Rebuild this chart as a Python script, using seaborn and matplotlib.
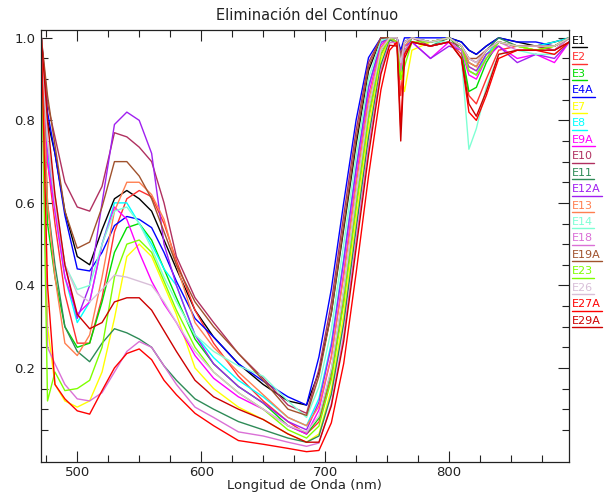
import matplotlib
matplotlib.use("Agg")
import matplotlib.pyplot as plt
import pandas as pd
import seaborn as sns
from matplotlib.ticker import MultipleLocator, FixedLocator, FormatStrFormatter
from matplotlib.lines import Line2D

# ---------------- data ----------------
wavelength = [471, 476, 482, 490, 500, 510, 520, 530, 540, 550, 560, 570, 580, 595, 610, 630, 650, 670, 685,
              695, 705, 715, 725, 735, 745, 752,
              758, 761, 764, 770, 785, 800, 810, 816, 822, 830, 840, 855, 870, 885, 897]

samples = ["E1", "E2", "E3", "E4A", "E7", "E8", "E9A", "E10", "E11", "E12A",
           "E13", "E14", "E18", "E19A", "E23", "E26", "E27A", "E29A"]

colors = ["#000000", "#FF3030", "#00DD00", "#0000FF", "#FFFF00", "#00FFFF", "#FF00FF", "#B03060", "#2E8B57",
          "#A020F0", "#FF7F50", "#7FFFD4", "#DA70D6", "#A0522D", "#7FFF00", "#D8BFD8", "#FF0000", "#CD0000"]

E1 = [1.0, 0.80, 0.72, 0.58, 0.47, 0.45, 0.535, 0.61, 0.63, 0.61, 0.58, 0.51, 0.44, 0.34, 0.275, 0.21, 0.16, 0.12, 0.11,
      0.19, 0.333, 0.537, 0.742, 0.92, 1.0, 1.0,
      1.0, 0.95, 0.99, 1.0, 0.99, 1.0, 0.99, 0.97, 0.96, 0.98, 1.0, 0.99, 0.98, 0.99, 1.0]
E2 = [1.0, 0.70, 0.55, 0.38, 0.26, 0.26, 0.37, 0.53, 0.61, 0.63, 0.615, 0.55, 0.46, 0.34, 0.26, 0.18, 0.12, 0.07, 0.04,
      0.069, 0.18, 0.364, 0.593, 0.806, 0.96, 1.0,
      0.98, 0.86, 0.97, 0.99, 0.98, 0.99, 0.96, 0.86, 0.84, 0.90, 0.97, 0.98, 0.98, 0.97, 0.99]
E3 = [1.0, 0.55, 0.42, 0.30, 0.25, 0.26, 0.36, 0.48, 0.54, 0.55, 0.51, 0.44, 0.37, 0.27, 0.21, 0.155, 0.115, 0.06, 0.04,
      0.078, 0.194, 0.386, 0.616, 0.827, 0.971, 1.0,
      0.99, 0.90, 0.96, 1.0, 0.99, 1.0, 0.97, 0.87, 0.88, 0.94, 0.99, 0.98, 0.97, 0.98, 1.0]
E4A = [1.0, 0.82, 0.72, 0.57, 0.44, 0.435, 0.48, 0.545, 0.567, 0.56, 0.54, 0.48, 0.41, 0.32, 0.275, 0.21, 0.168, 0.13, 0.11,
       0.227, 0.391, 0.601, 0.801, 0.952, 1.0, 1.0,
       1.0, 0.97, 1.0, 1.0, 1.0, 1.0, 0.99, 0.97, 0.96, 0.98, 1.0, 0.99, 0.99, 0.98, 1.0]
E7 = [1.0, 0.30, 0.16, 0.12, 0.105, 0.12, 0.19, 0.32, 0.47, 0.50, 0.47, 0.40, 0.33, 0.20, 0.15, 0.105, 0.075, 0.04, 0.02,
      0.04, 0.149, 0.33, 0.561, 0.78, 0.947, 1.0,
      0.99, 0.92, 0.87, 0.97, 0.99, 1.0, 0.98, 0.93, 0.92, 0.96, 0.99, 0.98, 0.97, 0.98, 1.0]
E8 = [1.0, 0.72, 0.58, 0.42, 0.31, 0.36, 0.50, 0.60, 0.60, 0.55, 0.50, 0.44, 0.40, 0.28, 0.225, 0.17, 0.13, 0.08, 0.06,
      0.126, 0.261, 0.466, 0.686, 0.882, 0.989, 1.0,
      1.0, 0.93, 0.98, 1.0, 0.99, 1.0, 0.98, 0.92, 0.91, 0.96, 0.99, 0.98, 0.98, 0.99, 1.0]
E9A = [1.0, 0.70, 0.58, 0.42, 0.33, 0.36, 0.50, 0.59, 0.56, 0.48, 0.41, 0.355, 0.31, 0.23, 0.175, 0.13, 0.10, 0.06, 0.04,
       0.098, 0.228, 0.432, 0.658, 0.862, 0.983, 1.0,
       0.99, 0.94, 0.98, 0.99, 0.95, 0.99, 0.97, 0.91, 0.90, 0.95, 0.98, 0.95, 0.96, 0.94, 0.99]
E10 = [1.0, 0.84, 0.76, 0.65, 0.59, 0.58, 0.64, 0.77, 0.76, 0.735, 0.70, 0.60, 0.47, 0.37, 0.31, 0.235, 0.175, 0.11, 0.09,
       0.197, 0.358, 0.57, 0.776, 0.94, 1.0, 1.0,
       1.0, 0.96, 0.99, 1.0, 0.98, 0.99, 0.98, 0.95, 0.94, 0.97, 0.99, 0.98, 0.98, 0.97, 1.0]
E11 = [1.0, 0.60, 0.45, 0.30, 0.24, 0.215, 0.26, 0.295, 0.285, 0.27, 0.25, 0.205, 0.17, 0.125, 0.10, 0.07, 0.05, 0.03, 0.02,
       0.035, 0.136, 0.308, 0.537, 0.759, 0.935, 0.994,
       0.99, 0.93, 0.97, 0.99, 0.98, 1.0, 0.98, 0.94, 0.93, 0.97, 1.0, 0.98, 0.98, 0.98, 1.0]
E12A = [1.0, 0.74, 0.60, 0.45, 0.32, 0.40, 0.60, 0.79, 0.82, 0.80, 0.72, 0.50, 0.40, 0.28, 0.21, 0.155, 0.115, 0.07, 0.05,
        0.117, 0.253, 0.46, 0.683, 0.88, 0.989, 1.0,
        0.99, 0.95, 0.98, 0.99, 0.95, 0.98, 0.97, 0.93, 0.92, 0.96, 0.98, 0.94, 0.96, 0.95, 0.99]
E13 = [1.0, 0.60, 0.42, 0.26, 0.23, 0.28, 0.42, 0.58, 0.65, 0.65, 0.62, 0.56, 0.45, 0.31, 0.25, 0.19, 0.135, 0.08, 0.06,
       0.107, 0.227, 0.421, 0.645, 0.848, 0.977, 1.0,
       0.99, 0.93, 0.98, 1.0, 0.99, 1.0, 0.98, 0.94, 0.93, 0.97, 0.99, 0.98, 0.98, 0.98, 1.0]
E14 = [1.0, 0.75, 0.62, 0.45, 0.39, 0.40, 0.50, 0.58, 0.59, 0.55, 0.49, 0.42, 0.36, 0.28, 0.24, 0.205, 0.18, 0.12, 0.08,
       0.154, 0.293, 0.5, 0.713, 0.901, 0.994, 1.0,
       1.0, 0.94, 0.99, 1.0, 0.99, 0.99, 0.95, 0.73, 0.78, 0.88, 0.96, 0.97, 0.96, 0.96, 0.99]
E18 = [1.0, 0.25, 0.21, 0.16, 0.125, 0.12, 0.14, 0.19, 0.24, 0.264, 0.25, 0.205, 0.16, 0.105, 0.08, 0.045, 0.035, 0.02, 0.01,
       0.018, 0.113, 0.279, 0.509, 0.735, 0.923, 0.988,
       0.99, 0.92, 0.97, 0.99, 0.98, 0.99, 0.97, 0.92, 0.91, 0.95, 0.99, 0.97, 0.97, 0.97, 1.0]
E19A = [1.0, 0.86, 0.74, 0.58, 0.49, 0.505, 0.59, 0.70, 0.70, 0.665, 0.61, 0.53, 0.45, 0.36, 0.30, 0.235, 0.17, 0.10, 0.085,
        0.18, 0.334, 0.546, 0.755, 0.929, 1.0, 1.0,
        1.0, 0.95, 0.99, 1.0, 0.99, 1.0, 0.98, 0.95, 0.95, 0.97, 0.99, 0.98, 0.98, 0.98, 1.0]
E23 = [1.0, 0.12, 0.19, 0.145, 0.15, 0.17, 0.25, 0.42, 0.50, 0.51, 0.48, 0.41, 0.34, 0.25, 0.19, 0.14, 0.10, 0.05, 0.03,
       0.059, 0.172, 0.358, 0.589, 0.804, 0.959, 1.0,
       0.99, 0.90, 0.93, 0.99, 0.99, 1.0, 0.98, 0.92, 0.91, 0.95, 0.99, 0.98, 0.97, 0.98, 1.0]
E26 = [1.0, 0.75, 0.60, 0.45, 0.38, 0.36, 0.39, 0.425, 0.42, 0.41, 0.40, 0.36, 0.31, 0.24, 0.19, 0.14, 0.10, 0.06, 0.045,
       0.083, 0.198, 0.389, 0.618, 0.828, 0.971, 1.0,
       1.0, 0.94, 0.99, 1.0, 0.99, 1.0, 0.98, 0.95, 0.94, 0.97, 0.99, 0.98, 0.98, 0.98, 1.0]
E27A = [1.0, 0.40, 0.16, 0.125, 0.096, 0.088, 0.145, 0.20, 0.235, 0.246, 0.22, 0.17, 0.135, 0.09, 0.06, 0.024, 0.015, 0.005, -0.003,
        0.0, 0.067, 0.211, 0.43, 0.665, 0.874, 0.97,
        0.99, 0.78, 0.96, 0.99, 0.98, 0.99, 0.95, 0.82, 0.80, 0.86, 0.95, 0.97, 0.97, 0.96, 0.99]
E29A = [1.0, 0.80, 0.62, 0.45, 0.33, 0.295, 0.31, 0.36, 0.37, 0.37, 0.34, 0.29, 0.24, 0.17, 0.13, 0.10, 0.075, 0.04, 0.02,
        0.02, 0.108, 0.265, 0.49, 0.716, 0.912, 0.982,
        0.98, 0.75, 0.95, 0.99, 0.98, 0.99, 0.95, 0.84, 0.81, 0.87, 0.96, 0.97, 0.97, 0.97, 0.99]

series = {"E1": E1, "E2": E2, "E3": E3, "E4A": E4A, "E7": E7, "E8": E8, "E9A": E9A, "E10": E10,
          "E11": E11, "E12A": E12A, "E13": E13, "E14": E14, "E18": E18, "E19A": E19A, "E23": E23,
          "E26": E26, "E27A": E27A, "E29A": E29A}

rows = []
for name in samples:
    for w, v in zip(wavelength, series[name]):
        rows.append((w, v, name))
df = pd.DataFrame(rows, columns=["wl", "val", "sample"])

# ---------------- figure ----------------
sns.set_style("ticks")
plt.rcParams["font.family"] = ["DejaVu Sans"]
W, H = 606, 494
fig = plt.figure(figsize=(W / 100, H / 100), dpi=100)
ax = fig.add_axes([40.7 / W, 32 / H, (569.3 - 40.7) / W, (462 - 30) / H])

sns.lineplot(data=df, x="wl", y="val", hue="sample", hue_order=samples,
             palette=dict(zip(samples, colors)), sort=False, estimator=None,
             legend=False, lw=1.0, ax=ax)

ax.set_xlim(470.5, 897)
ax.set_ylim(-0.028, 1.019)

txtc = "#222222"
ax.xaxis.set_major_locator(MultipleLocator(100))
ax.xaxis.set_minor_locator(MultipleLocator(25))
ax.yaxis.set_major_locator(FixedLocator([0.2, 0.4, 0.6, 0.8, 1.0]))
ax.yaxis.set_minor_locator(FixedLocator([0.05 * k for k in range(1, 21)]))
ax.yaxis.set_major_formatter(FormatStrFormatter("%.1f"))
ax.tick_params(which="both", direction="in", top=True, right=True, colors="#222222",
               labelcolor=txtc, labelsize=9.5, width=0.8)
ax.tick_params(which="major", length=8)
ax.tick_params(axis="x", which="major", pad=3)
ax.tick_params(axis="y", which="major", pad=4)
ax.tick_params(which="minor", length=5)
for s in ax.spines.values():
    s.set_color("#222222")
    s.set_linewidth(0.9)

ax.set_xlabel("")
ax.set_ylabel("")
fig.text(304 / W, 1 - 485 / H, "Longitud de Onda (nm)", fontsize=9.5, color=txtc,
         ha="center", va="center")
fig.text(307 / W, 1 - 15 / H, "Eliminación del Contínuo", fontsize=10.5, color=txtc,
         ha="center", va="center")

# legend: coloured labels with underline, outside to the right
fig.canvas.draw()
renderer = fig.canvas.get_renderer()
inv = fig.transFigure.inverted()
for i, (name, c) in enumerate(zip(samples, colors)):
    ycen = 41 + i * 16.45
    t = fig.text(572 / W, 1 - ycen / H, name, color=c, fontsize=8, ha="left", va="center")
    bb = t.get_window_extent(renderer)
    (x0, _), (x1, _) = inv.transform([(bb.x0, 0), (bb.x1 + 1, 0)])
    yl = 1 - (ycen + 6.5) / H
    fig.add_artist(Line2D([x0, x1], [yl, yl], color=c, lw=1.0, transform=fig.transFigure))

fig.savefig("out.png", dpi=100)
